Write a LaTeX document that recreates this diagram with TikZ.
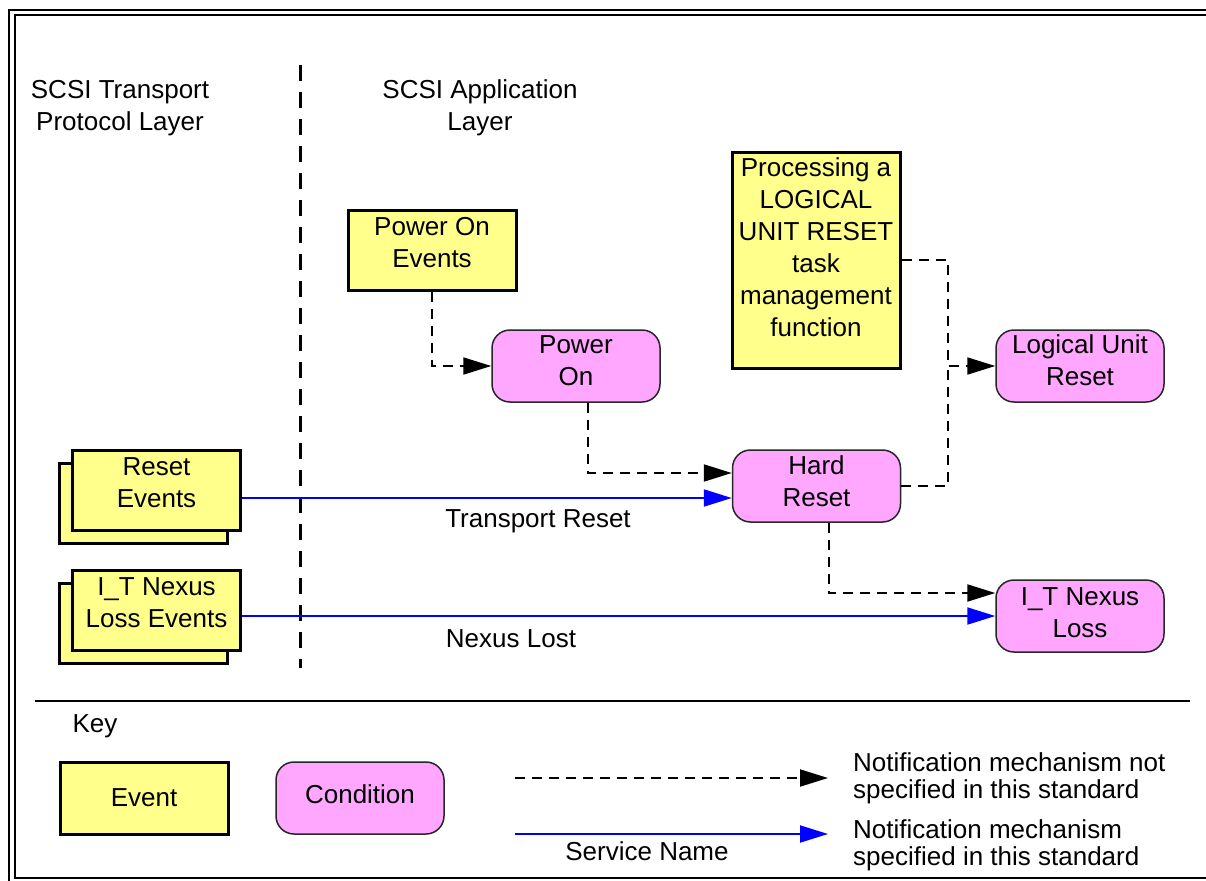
\documentclass[tikz,border=0pt]{standalone}
\usepackage{fontspec}
\setmainfont{Liberation Sans}
\usetikzlibrary{arrows.meta,calc}
\definecolor{evy}{RGB}{255,255,140}
\definecolor{cpk}{RGB}{255,166,255}
\newcommand\uptext[2]{\raisebox{0pt}[\height][\dimexpr\depth+#1+#1\relax]{\begin{tabular}{@{}c@{}}#2\end{tabular}}}
\begin{document}
\begin{tikzpicture}[x=1pt,y=-1pt, font=\fontsize{26}{32}\selectfont,
  evbox/.style={draw, line width=3pt, fill=evy, minimum width=168pt, minimum height=80pt, align=center, inner sep=0pt},
  cond/.style={draw=black!85, line width=1.5pt, fill=cpk, rounded corners=18pt, minimum width=168pt, minimum height=72pt, align=center, inner sep=0pt},
  notifline/.style={line width=2pt, dash pattern=on 10pt off 7pt},
  notif/.style={notifline, -{Triangle[length=28pt,width=17pt]}},
  svcline/.style={line width=2pt, blue, -{Triangle[length=28pt,width=17pt]}},
  lbl/.style={inner sep=0pt, align=center}]
\useasboundingbox (0,0) rectangle (1206,880);
\clip (0,0) rectangle (1206,880);
% frame
\draw[line width=2pt] (9,10) rectangle (1230,900);
\draw[line width=2pt] (15,15.5) rectangle (1225,878);
% titles
\node[lbl] (tpl) at (120,108) {SCSI Transport\\Protocol Layer};
\node[lbl] (sal) at (480,108) {SCSI Application\\Layer};
\coordinate (dtop) at (300,65);
\coordinate (dbot) at (300,668);
\draw[line width=3pt, dash pattern=on 16pt off 11pt] (dtop) -- (dbot);
% events
\node[evbox] (poe) at (432,250) {\uptext{5pt}{Power On\\Events}};
\node[evbox, minimum height=216pt] (proc) at (816,260) {\uptext{10pt}{Processing a\\LOGICAL\\UNIT RESET\\task\\management\\function}};
\node[evbox] (revb) at (143.5,503) {};
\node[evbox] (rev) at (156.5,490) {\uptext{5pt}{Reset\\Events}};
\node[evbox] (itleb) at (143.5,623) {};
\node[evbox] (itle) at (156.5,610) {\uptext{5pt}{I\_T Nexus\\Loss Events}};
% conditions
\node[cond] (pon) at (576,366) {\uptext{3pt}{Power\\On}};
\node[cond] (lur) at (1080,366) {\uptext{3pt}{Logical Unit\\Reset}};
\node[cond] (hr) at (816.5,486) {\uptext{2pt}{Hard\\Reset}};
\node[cond] (itl) at (1080,616) {\uptext{1pt}{I\_T Nexus\\Loss}};
% connectors
\draw[notif] (poe.south) |- (pon.west);
\draw[notif] ($(pon.south)+(12,0)$) |- ($(hr.west)+(0,-13)$);
\coordinate (hrb) at ($(hr.west)+(0,12)$);
\draw[svcline] (rev.east |- hrb) -- (hrb);
\node[lbl] (trl) at (538,521) {Transport Reset};
\coordinate (jn) at (948,0);
\draw[notif] (proc.east) -| (jn |- lur.west) -- (lur.west);
\draw[notifline] (hr.east) -| (jn |- lur.west);
\draw[notif] ($(hr.south)+(12,0)$) |- ($(itl.west)+(0,-23)$);
\draw[svcline] (itle.east |- itl.west) -- (itl.west);
\node[lbl] (nll) at (511,639) {Nexus Lost};
% key
\coordinate (sepa) at (35,701);
\coordinate (sepb) at (1190,701);
\draw[line width=1.5pt] (sepa) -- (sepb);
\node[lbl] (key) at (95,726) {Key};
\node[evbox, minimum height=72pt] (kev) at (144,798) {Event};
\node[cond] (kcond) at (360,798) {\uptext{1pt}{Condition}};
\coordinate (l1a) at (515,778);
\coordinate (l1b) at (828,778);
\draw[notif] (l1a) -- (l1b);
\coordinate (l2a) at (515,834);
\coordinate (l2b) at (828,834);
\draw[svcline] (l2a) -- (l2b);
\node[lbl] (svn) at (647,851) {Service Name};
\node[inner sep=0pt, anchor=west, align=left, font=\fontsize{26}{27}\selectfont] (t1) at (853,778) {Notification mechanism not\\specified in this standard};
\node[inner sep=0pt, anchor=west, align=left, font=\fontsize{26}{27}\selectfont] (t2) at (853,845) {Notification mechanism\\specified in this standard};
\end{tikzpicture}
\end{document}
